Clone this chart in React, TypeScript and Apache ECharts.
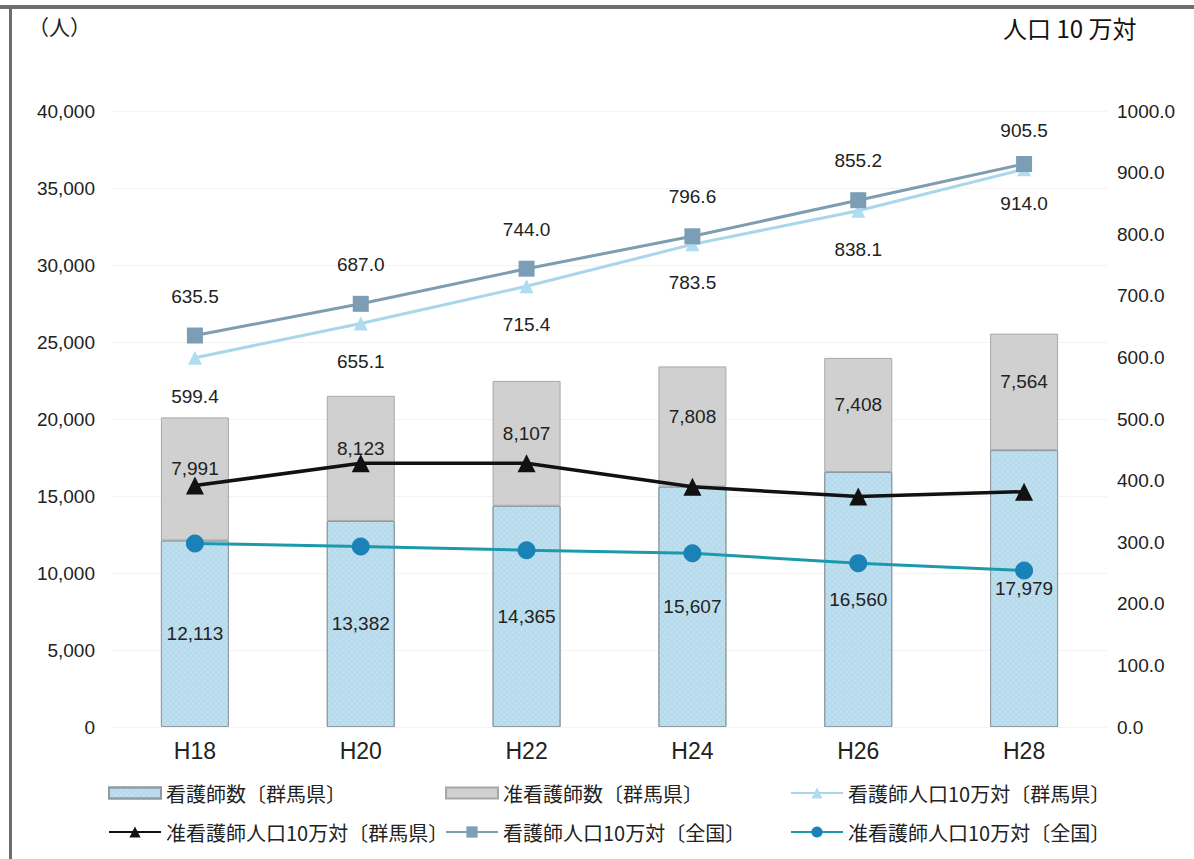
import React, { useEffect, useRef } from "react";
import * as echarts from "echarts";

const categories = ["H18", "H20", "H22", "H24", "H26", "H28"];
const nurseCountGunma = [12113, 13382, 14365, 15607, 16560, 17979];
const assistNurseCountGunma = [7991, 8123, 8107, 7808, 7408, 7564];
const nurseRateGunma = [599.4, 655.1, 715.4, 783.5, 838.1, 905.5];
const assistRateGunma = [392, 428, 428, 390, 374, 382];
const nurseRateNational = [635.5, 687.0, 744.0, 796.6, 855.2, 914.0];
const assistRateNational = [298, 293, 287, 282, 266, 254];

const leftTicks = { min: 0, max: 40000, interval: 5000 };
const rightTicks = { min: 0, max: 1000, interval: 100 };

const names = [
  "看護師数〔群馬県〕",
  "准看護師数〔群馬県〕",
  "看護師人口10万対〔群馬県〕",
  "准看護師人口10万対〔群馬県〕",
  "看護師人口10万対〔全国〕",
  "准看護師人口10万対〔全国〕",
];

const FONT = "'Liberation Sans', Arial, 'Noto Sans CJK JP', sans-serif";
const CJK = "'Noto Sans CJK JP', sans-serif";

export default function App() {
  const ref = useRef<HTMLDivElement>(null);
  useEffect(() => {
    if (!ref.current) return;
    const chart = echarts.init(ref.current, null, { renderer: "svg" });
    const last = categories.length - 1;
    const lineLabel = { show: true, fontSize: 19, color: "#222", fontFamily: FONT, distance: 22 };
    const legendPos = [
      [103, 778],
      [440, 778],
      [785, 778],
      [103, 817],
      [440, 817],
      [785, 817],
    ];
    const legends = names.map((n, i) => ({
      data: i < 2 ? [{ name: n, icon: "rect" }] : [n],
      left: legendPos[i][0],
      top: legendPos[i][1],
      itemWidth: 52,
      itemHeight: i < 2 ? 11 : 14,
      textStyle: { fontSize: 20, color: "#222", fontFamily: CJK },
      selectedMode: false,
    }));
    chart.setOption({
      animation: false,
      backgroundColor: "#fff",
      legend: legends,
      grid: { left: 112, right: 87, top: 111, bottom: 132 },
      xAxis: {
        type: "category",
        data: categories,
        axisLine: { show: false },
        axisTick: { show: false },
        axisLabel: { fontSize: 23, color: "#222", fontFamily: FONT, margin: 12 },
      },
      yAxis: [
        {
          type: "value",
          ...leftTicks,
          axisLine: { show: false },
          axisTick: { show: false },
          splitLine: { show: true, lineStyle: { color: "#f3f3f3" } },
          axisLabel: {
            fontSize: 19,
            color: "#222",
            fontFamily: FONT,
            margin: 17,
            formatter: (v: number) => v.toLocaleString("en-US"),
          },
        },
        {
          type: "value",
          ...rightTicks,
          axisLine: { show: false },
          axisTick: { show: false },
          splitLine: { show: false },
          axisLabel: {
            fontSize: 19,
            color: "#222",
            fontFamily: FONT,
            margin: 10,
            formatter: (v: number) => v.toFixed(1),
          },
        },
      ],
      graphic: [
        { type: "rect", shape: { x: 0, y: 5, width: 1194, height: 4 }, style: { fill: "#6e6e6e" }, z: 100 },
        { type: "rect", shape: { x: 9, y: 5, width: 3, height: 854 }, style: { fill: "#6e6e6e" }, z: 100 },
        { type: "text", left: 28, top: 15, style: { text: "（人）", fontSize: 21, fill: "#222", fontFamily: CJK } },
        { type: "text", left: 1003, top: 15, style: { text: "人口 10 万対", fontSize: 24, fill: "#111", fontFamily: CJK } },
      ],
      series: [
        {
          name: names[0],
          type: "bar",
          stack: "cnt",
          barWidth: 68,
          data: nurseCountGunma,
          itemStyle: {
            color: "#b7dbec",
            borderColor: "#8f9aa3",
            borderWidth: 1,
            decal: {
              symbol: "circle",
              symbolSize: 0.6,
              color: "rgba(255,255,255,0.55)",
              dashArrayX: [4, 0],
              dashArrayY: [2, 2],
              rotation: 0.785,
            },
          },
          label: {
            show: true,
            position: "inside",
            fontSize: 19,
            color: "#222",
            fontFamily: FONT,
            formatter: (p: any) => p.value.toLocaleString("en-US"),
          },
          z: 2,
        },
        {
          name: names[1],
          type: "bar",
          stack: "cnt",
          barWidth: 68,
          data: assistNurseCountGunma,
          itemStyle: { color: "#d0d0d0", borderColor: "#a8a8a8", borderWidth: 1 },
          label: {
            show: true,
            position: "inside",
            offset: [0, -10],
            fontSize: 19,
            color: "#222",
            fontFamily: FONT,
            formatter: (p: any) => p.value.toLocaleString("en-US"),
          },
          z: 2,
        },
        {
          name: names[2],
          type: "line",
          yAxisIndex: 1,
          data: nurseRateGunma.map((v, i) => ({
            value: v,
            label: { position: i === last ? "top" : "bottom" },
          })),
          symbol: "triangle",
          symbolSize: 14,
          lineStyle: { color: "#a9d6ea", width: 3 },
          itemStyle: { color: "#b0dcef" },
          label: { ...lineLabel, formatter: (p: any) => p.value.toFixed(1) },
          z: 4,
        },
        {
          name: names[3],
          type: "line",
          yAxisIndex: 1,
          data: assistRateGunma,
          symbol: "triangle",
          symbolSize: 18,
          lineStyle: { color: "#111", width: 3.5 },
          itemStyle: { color: "#111" },
          z: 6,
        },
        {
          name: names[4],
          type: "line",
          yAxisIndex: 1,
          data: nurseRateNational.map((v, i) => ({
            value: v,
            label: { position: i === last ? "bottom" : "top" },
          })),
          symbol: "rect",
          symbolSize: 16,
          lineStyle: { color: "#7f9db0", width: 3 },
          itemStyle: { color: "#7b9eb6" },
          label: { ...lineLabel, formatter: (p: any) => p.value.toFixed(1) },
          z: 5,
        },
        {
          name: names[5],
          type: "line",
          yAxisIndex: 1,
          data: assistRateNational,
          symbol: "circle",
          symbolSize: 18,
          lineStyle: { color: "#1c9aab", width: 3 },
          itemStyle: { color: "#1b82b8" },
          z: 5,
        },
      ],
    });
    return () => chart.dispose();
  }, []);
  return (
    <div
      ref={ref}
      style={{ position: "fixed", left: 0, top: 0, width: 1194, height: 859 }}
    />
  );
}
